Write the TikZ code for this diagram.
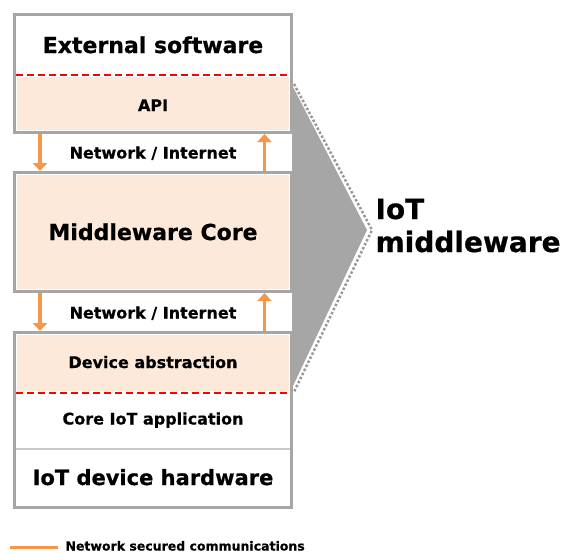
\documentclass[tikz,border=0pt]{standalone}
\usepackage{fontspec}
\setmainfont{DejaVu Sans}[BoldFeatures={FakeBold=0.6}]
\usetikzlibrary{arrows.meta}
\definecolor{boxgray}{HTML}{A6A6A6}
\definecolor{peach}{HTML}{FDE9D9}
\definecolor{orng}{HTML}{F79646}
\definecolor{dotgray}{HTML}{999999}
\definecolor{sepgray}{HTML}{C8C8C8}
\tikzset{
  frame/.style={draw=boxgray, line width=3pt, minimum width=277pt, inner sep=0pt},
  peachfill/.style={fill=peach},
  reddash/.style={draw=red, line width=2.5pt, dash pattern=on 7pt off 4pt},
  flow/.style={draw=orng, line width=3.5pt, -{Triangle[width=14pt,length=8pt]}},
  big/.style={font=\bfseries\fontsize{22}{26}\selectfont, anchor=base},
  small/.style={font=\bfseries\fontsize{16}{19}\selectfont, anchor=base},
  huge/.style={font=\bfseries\fontsize{28}{33}\selectfont, anchor=base west, align=left},
  legendtxt/.style={font=\bfseries\fontsize{12.5}{14}\selectfont, anchor=base west},
}
\begin{document}
\begin{tikzpicture}[x=1pt,y=-1pt]
\useasboundingbox (0,0) rectangle (565,552);
% gray wedge
\fill[boxgray] (292,85) -- (367,230) -- (292,388) -- cycle;
\draw[dotgray, line width=2.5pt, dash pattern=on 2.5pt off 2pt] (294,84) -- (372,230) -- (294,392);
% fills
\fill[peachfill] (17,77) rectangle (289,130);
\fill[peachfill] (17,175) rectangle (289,289);
\fill[peachfill] (17,335) rectangle (289,391);
% frames
\node[frame, minimum height=118.5pt] (box1) at (153,73.25) {};
\node[frame, minimum height=119pt] (box2) at (153,232) {};
\node[frame, minimum height=174.5pt] (box3) at (153,419.75) {};
% dashed separators
\draw[reddash] (16,75) -- (290,75);
\draw[reddash] (16,393) -- (290,393);
\draw[sepgray, line width=2pt] (16,449) -- (290,449);
% labels
\node[big] (ext) at (153,53) {External software};
\node[small] (api) at (153,111) {API};
\node[small] (net1) at (153,158.5) {Network / Internet};
\node[big] (core) at (153,240) {Middleware Core};
\node[small] (net2) at (153,318.5) {Network / Internet};
\node[small] (dev) at (153,368) {Device abstraction};
\node[small] (app) at (153,424.5) {Core IoT application};
\node[big, font=\bfseries\fontsize{21}{25}\selectfont] (hw) at (153,485) {IoT device hardware};
\node[huge] (iot) at (372,252) {IoT\\middleware};
% arrows
\coordinate (dn) at (40,0);
\coordinate (up) at (264.5,0);
\draw[flow] (box1.south -| dn) -- (box2.north -| dn);
\draw[flow] (box2.north -| up) -- (box1.south -| up);
\draw[flow] (box2.south -| dn) -- (box3.north -| dn);
\draw[flow] (box3.north -| up) -- (box2.south -| up);
% legend
\coordinate (la) at (10,547);
\coordinate (lb) at (58,547);
\draw[orng, line width=3pt] (la) -- (lb);
\node[legendtxt] (leg) at (62,550.5) {Network secured communications};
\end{tikzpicture}
\end{document}
